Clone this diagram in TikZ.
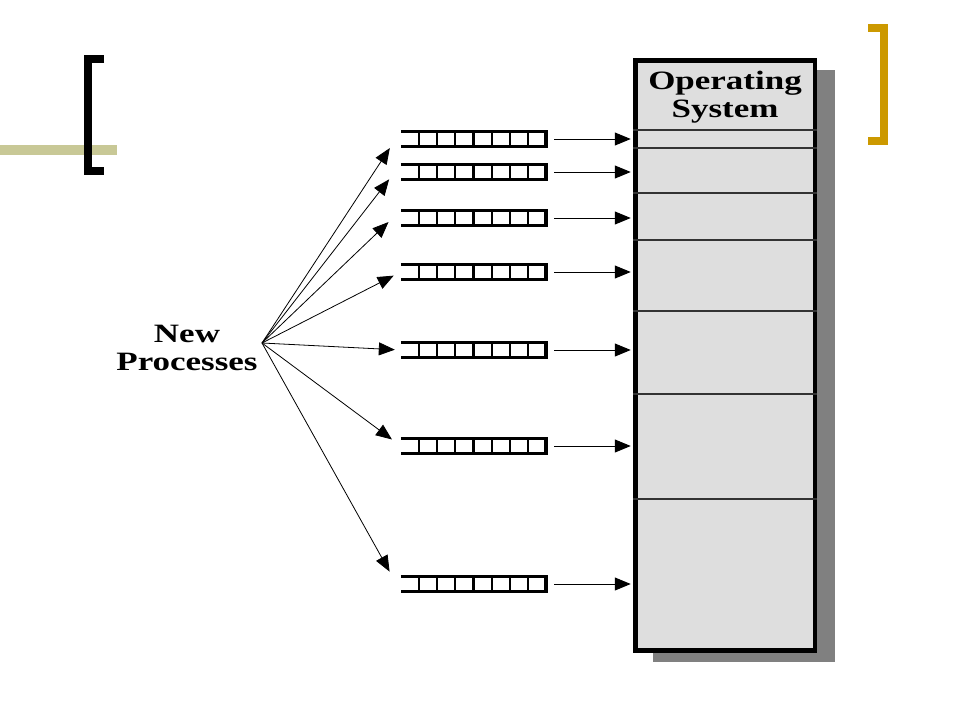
\documentclass[tikz,border=0pt]{standalone}
\usepackage{fontspec}
\setmainfont{Liberation Serif}
\usetikzlibrary{arrows.meta}
\definecolor{barolive}{RGB}{200,200,150}
\definecolor{bracketgold}{RGB}{204,153,0}

\begin{document}
\begin{tikzpicture}[x=1pt, y=-1pt, >={Triangle[length=16pt,width=13pt]},
  queue/.style={minimum width=145pt, minimum height=15pt, inner sep=0pt},
  bigtext/.style={font=\fontsize{26.5}{28}\selectfont\bfseries, align=center, xscale=1.32}]
  \useasboundingbox (0,0) rectangle (960,720);
  % slide decoration
  \fill[barolive] (0,145) rectangle (117,155);
  \draw[line width=8pt] (104,59) -- (87.5,59) -- (87.5,171) -- (104,171);
  \draw[line width=8pt, bracketgold] (868,28) -- (883.5,28) -- (883.5,141) -- (868,141);
  % memory
  \fill[black!50] (653,70) rectangle (835,662);
  \node(mem)[draw, line width=4.5pt, fill=black!13, minimum width=179.5pt, minimum height=590pt, inner sep=0pt] at (725.25,355.5) {};
  \foreach \y in {130,148,193,240,311,394,499}
    \draw[line width=1.5pt, black!80] (mem.west |- 0,\y) -- (mem.east |- 0,\y);
  \node(os)[bigtext] at (725,97) {Operating\\System};
  \node(np)[bigtext] at (187,348) {New\\Processes};
  \coordinate(fan) at (262,343);
  % queues
  \foreach \n/\y in {1/139,2/172,3/218,4/272,5/350,6/446,7/584} {
    \node(q\n)[queue] at (473.5,\y) {};
    \draw[line width=3.5pt] (q\n.north west) -- (q\n.north east) -- (q\n.south east) -- (q\n.south west);
    \foreach \k in {1,...,7}
      \draw[line width=2.2pt] ([xshift=-\k*18.2pt]q\n.north east) -- ([xshift=-\k*18.2pt]q\n.south east);
    \draw[->, line width=1pt, shorten <=8pt, shorten >=2.5pt] (q\n.east) -- (mem.west |- q\n.east);
  }
  \foreach \n/\a/\s in {1/north west/20,2/north west/19,3/north west/17,4/west/8,5/west/6,6/west/11,7/south west/23}
    \draw[->, line width=0.8pt, shorten >=\s pt] (fan) -- (q\n.\a);
\end{tikzpicture}
\end{document}
